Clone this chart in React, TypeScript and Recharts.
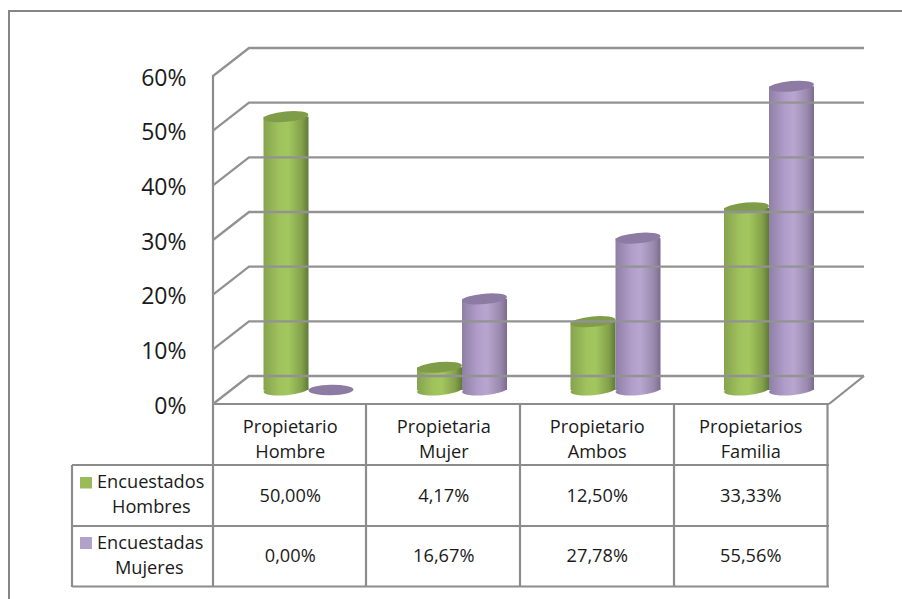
import React from "react";
import { BarChart, Bar, XAxis, YAxis, Customized } from "recharts";

const categories = ["Propietario Hombre", "Propietaria Mujer", "Propietario Ambos", "Propietarios Familia"];
const categoryLine1 = ["Propietario", "Propietaria", "Propietario", "Propietarios"];
const categoryLine2 = ["Hombre", "Mujer", "Ambos", "Familia"];
const hombres = [50, 4.17, 12.5, 33.33];
const mujeres = [0, 16.67, 27.78, 55.56];
const hombresLabels = ["50,00%", "4,17%", "12,50%", "33,33%"];
const mujeresLabels = ["0,00%", "16,67%", "27,78%", "55,56%"];
const yTicks = [0, 10, 20, 30, 40, 50, 60];

const data = categories.map((c, i) => ({ name: c, hombres: hombres[i], mujeres: mujeres[i], i }));

const FONT = "'Open Sans', sans-serif";
const GRID = "#929292";
const TXT = "#1a1a1a";
const depthX = 36;
const depthY = 28;
const frontLeft = 213;
const backRight = 864;
const DY = 14;
const TABLE_FS = 18.2;

const YTick = (p: any) => {
  const y = p.y;
  const fy = y + DY;
  return (
    <g>
      <polyline
        points={`${frontLeft},${fy} ${frontLeft + depthX},${fy - depthY} ${backRight},${fy - depthY}`}
        fill="none"
        stroke={GRID}
        strokeWidth={2.3}
      />
      <text x={186.5} y={fy + 9.5} textAnchor="end" fontFamily={FONT} fontSize={23} fill={TXT}>
        {p.payload.value}%
      </text>
    </g>
  );
};

const XTick = (p: any) => {
  const i = p.index;
  const cx = p.x - 18;
  const T = (t: string, y: number) => (
    <text x={cx} y={y} textAnchor="middle" fontFamily={FONT} fontSize={TABLE_FS} fill={TXT}>
      {t}
    </text>
  );
  return (
    <g>
      {T(categoryLine1[i], 433)}
      {T(categoryLine2[i], 458)}
      {T(hombresLabels[i], 502)}
      {T(mujeresLabels[i], 562)}
    </g>
  );
};

const Cylinder = (p: any) => {
  const { x, y, width, height, gradient, top } = p;
  const rx = width / 2;
  const ry = 5.2;
  const cx = x + rx;
  const rot = -5;
  const bottom = y + height;
  if (height < 1) {
    return <ellipse cx={cx} cy={bottom} rx={rx} ry={ry} fill={top} transform={`rotate(-1 ${cx} ${bottom})`} />;
  }
  return (
    <g>
      <ellipse cx={cx} cy={bottom} rx={rx} ry={ry} fill={`url(#${gradient})`} transform={`rotate(${rot} ${cx} ${bottom})`} />
      <rect x={x} y={y} width={width} height={height} fill={`url(#${gradient})`} />
      <ellipse cx={cx} cy={y} rx={rx} ry={ry} fill={top} transform={`rotate(${rot} ${cx} ${y})`} />
    </g>
  );
};

const Gradients = () => (
  <defs>
    <linearGradient id="gGreen" x1="0" x2="1" y1="0" y2="0">
      <stop offset="0%" stopColor="#86a34e" />
      <stop offset="35%" stopColor="#a0c25d" />
      <stop offset="55%" stopColor="#a3c75f" />
      <stop offset="85%" stopColor="#83a14a" />
      <stop offset="100%" stopColor="#5f7a36" />
    </linearGradient>
    <linearGradient id="gPurple" x1="0" x2="1" y1="0" y2="0">
      <stop offset="0%" stopColor="#8f7fa6" />
      <stop offset="35%" stopColor="#b09dc9" />
      <stop offset="55%" stopColor="#b8a6d0" />
      <stop offset="85%" stopColor="#9a89ad" />
      <stop offset="100%" stopColor="#7b6c8f" />
    </linearGradient>
  </defs>
);

const TableLines = () => {
  const s = { stroke: "#8c8c8c", strokeWidth: 2.2 };
  const L = (t: string, x: number, y: number) => (
    <text x={x} y={y} textAnchor="start" fontFamily={FONT} fontSize={TABLE_FS} fill={TXT}>{t}</text>
  );
  return (
    <g>
      <line x1={frontLeft} y1={404} x2={829} y2={404} {...s} />
      <line x1={829} y1={404} x2={864} y2={376} {...s} />
      <line x1={213} y1={404} x2={213} y2={587} {...s} />
      <line x1={366} y1={404} x2={366} y2={587} {...s} />
      <line x1={520} y1={404} x2={520} y2={587} {...s} />
      <line x1={674} y1={404} x2={674} y2={587} {...s} />
      <line x1={827.5} y1={404} x2={827.5} y2={587} {...s} />
      <line x1={72} y1={465} x2={829} y2={465} {...s} />
      <line x1={72} y1={526} x2={829} y2={526} {...s} />
      <line x1={72} y1={586.5} x2={829} y2={586.5} {...s} />
      <line x1={72} y1={465} x2={72} y2={587} {...s} />
      <line x1={213} y1={75} x2={213} y2={404} {...s} />
      <rect x={80} y={477} width={12} height={11.5} fill="#9bbb59" />
      <rect x={80} y={537} width={12} height={12} fill="#b3a2c7" />
      {L("Encuestados", 97, 488)}
      {L("Hombres", 112, 513)}
      {L("Encuestadas", 97, 549)}
      {L("Mujeres", 115, 574)}
    </g>
  );
};

export default function App() {
  return (
    <div style={{ position: "absolute", left: 0, top: 0, width: 902, height: 599, background: "#fff", overflow: "hidden" }}>
      <div style={{ position: "absolute", left: 8, top: 10, width: 894, height: 589, borderTop: "2px solid #868686", borderLeft: "2px solid #868686", boxSizing: "border-box" }} />
      <div style={{ position: "absolute", left: 0, top: 0 }}>
        <BarChart
          width={902}
          height={599}
          data={data}
          barGap={0}
          barCategoryGap={32}
          margin={{ top: 62, right: 56.5, bottom: 208, left: 230.5 }}
        >
          <Gradients />
          <XAxis dataKey="name" axisLine={false} tickLine={false} interval={0} tick={<XTick />} height={1} />
          <YAxis domain={[0, 60]} ticks={yTicks} width={1} axisLine={false} tickLine={false} tick={<YTick />} interval={0} />
          <Customized component={TableLines} />
          <Bar dataKey="hombres" isAnimationActive={false} shape={<Cylinder gradient="gGreen" top="#7f9c48" />} />
          <Bar dataKey="mujeres" isAnimationActive={false} shape={<Cylinder gradient="gPurple" top="#8d7ba3" />} />
        </BarChart>
      </div>
    </div>
  );
}
